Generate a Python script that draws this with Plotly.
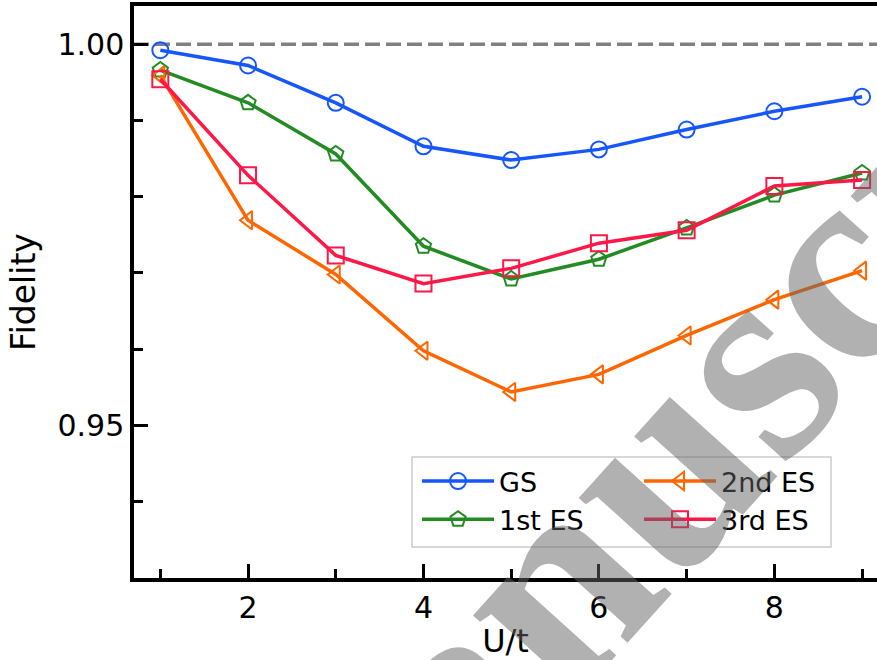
import plotly.graph_objects as go

# Interaction strength U/t and fidelities of the ground and excited states
u_t = [1, 2, 3, 4, 5, 6, 7, 8, 9]
fid_gs = [0.9992, 0.9972, 0.9923, 0.9866, 0.9848, 0.9862, 0.9888, 0.9912, 0.9931]
fid_es1 = [0.9966, 0.9923, 0.9856, 0.9735, 0.9692, 0.9718, 0.9759, 0.9802, 0.9831]
fid_es2 = [0.9959, 0.9769, 0.9698, 0.9598, 0.9544, 0.9567, 0.9618, 0.9665, 0.9703]
fid_es3 = [0.9954, 0.9828, 0.9723, 0.9686, 0.9706, 0.9739, 0.9756, 0.9814, 0.9822]

series_names = ["GS", "1st ES", "2nd ES", "3rd ES"]
series_colors = ["#1656ff", "#228b22", "#ff6600", "#ff1748"]
series_symbols = ["circle-open", "pentagon-open", "triangle-left-open", "square-open"]
legend_columns = ["legend", "legend", "legend2", "legend2"]

x_ticks = [2, 4, 6, 8]
y_ticks = [0.95, 1.00]
y_tick_text = ["0.95", "1.00"]
watermark = "Manuscript"

FONT = "DejaVu Sans"

fig = go.Figure()

for name, ys, color, sym, leg in zip(series_names, [fid_gs, fid_es1, fid_es2, fid_es3],
                                     series_colors, series_symbols, legend_columns):
    fig.add_trace(go.Scatter(
        x=u_t, y=ys, name=name, mode="lines+markers", legend=leg,
        line=dict(color=color, width=3.5),
        marker=dict(symbol=sym, size=16, color=color, line=dict(width=2, color=color)),
    ))

# reference line at perfect fidelity
fig.add_shape(type="line", xref="paper", x0=0, x1=1, yref="y", y0=1.0, y1=1.0,
              line=dict(color="#808080", width=3.5, dash="15px,6px"), layer="below")

# common frame behind the two legend columns
fig.add_shape(type="rect", xref="paper", yref="paper", x0=0.3742, x1=0.9381,
              y0=0.0542, y1=0.2115, fillcolor="rgba(255,255,255,0.8)",
              line=dict(color="#cccccc", width=1.5), layer="above")

fig.add_annotation(
    text="<b>" + watermark + "</b>", xref="paper", yref="paper", x=0.762, y=0.282,
    xanchor="center", yanchor="middle", textangle=-48, showarrow=False,
    font=dict(family="Liberation Serif", size=290, color="rgba(100,100,100,0.5)"),
)

legend_common = dict(
    orientation="v", y=0.2115, xanchor="left", yanchor="top",
    font=dict(family=FONT, size=27), itemwidth=72,
    bgcolor="rgba(0,0,0,0)", borderwidth=0,
)

fig.update_layout(
    width=877, height=660,
    margin=dict(l=134, r=0, t=6, b=82),
    plot_bgcolor="white", paper_bgcolor="white",
    font=dict(family=FONT, color="black"),
    showlegend=True,
    legend=dict(x=0.3809, **legend_common),
    legend2=dict(x=0.6797, **legend_common),
    xaxis=dict(
        range=[0.7, 9.17], tickvals=x_ticks, ticks="inside", ticklen=14, tickwidth=3,
        tickcolor="black", showline=True, linecolor="black", linewidth=3.5, mirror=True,
        showgrid=False, zeroline=False, tickfont=dict(family=FONT, size=30),
        minor=dict(tickvals=u_t, ticks="inside", ticklen=9, tickwidth=3, tickcolor="black",
                   showgrid=False),
        title=dict(text="U/t", font=dict(family=FONT, size=32), standoff=14),
    ),
    yaxis=dict(
        range=[0.93, 1.005], tickvals=y_ticks, ticktext=y_tick_text, ticks="inside",
        ticklen=14, tickwidth=3, tickcolor="black", showline=True, linecolor="black",
        linewidth=3.5, mirror=False, showgrid=False, zeroline=False,
        tickfont=dict(family=FONT, size=30),
        minor=dict(dtick=0.01, tick0=0.93, ticks="inside", ticklen=9, tickwidth=3,
                   tickcolor="black", showgrid=False),
        title=dict(text="Fidelity", font=dict(family=FONT, size=33), standoff=13),
    ),
)

fig.write_html("out.html")
